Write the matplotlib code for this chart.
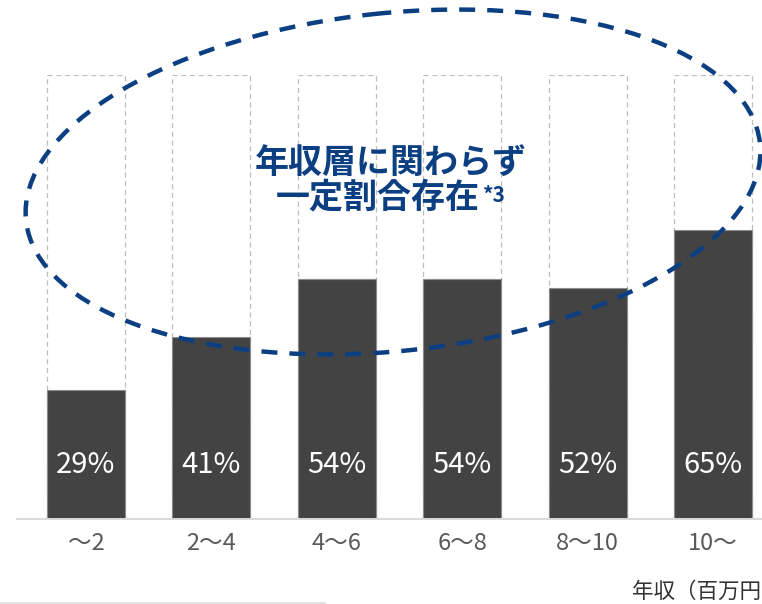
import matplotlib
matplotlib.use("Agg")
import matplotlib.pyplot as plt
from matplotlib.patches import Ellipse
from matplotlib.lines import Line2D

plt.rcParams['font.family'] = ['Noto Sans CJK JP', 'DejaVu Sans']

# Share of respondents by annual income bracket (million yen)
categories = ['〜2', '2〜4', '4〜6', '6〜8', '8〜10', '10〜']
shares = [29, 41, 54, 54, 52, 65]
full_scale = 100

W, H = 762, 604
fig = plt.figure(figsize=(W / 100, H / 100), dpi=100)
fig.patch.set_facecolor('white')

# main bar axes (baseline at y=519 px, 100% at y=75 px)
ax = fig.add_axes([17 / W, 1 - 519 / H, (W - 17) / W, 444 / H])
x = list(range(len(categories)))
bar_w = 0.622

# dashed outline showing the 100% envelope
ax.bar(x, [full_scale] * len(x), width=bar_w, fill=False,
       edgecolor='#bdbdbd', linewidth=0.9, linestyle=(0, (4, 3)), zorder=1)
bars = ax.bar(x, shares, width=bar_w, color='#434343',
              edgecolor='#8c8c8c', linewidth=0.8, zorder=2)
for xi, v in zip(x, shares):
    ax.text(xi, 12.2, f'{v}%', ha='center', va='center', color='white',
            fontsize=21, zorder=3)

ax.set_xlim(-0.550, 5.391)
ax.set_ylim(0, full_scale)
ax.set_xticks(x)
ax.set_xticklabels(categories, fontsize=17, color='#595959')
ax.tick_params(axis='x', length=0, pad=9)
ax.set_yticks([])
for s in ['top', 'left', 'right']:
    ax.spines[s].set_visible(False)
ax.spines['bottom'].set_color('#d9d9d9')
ax.spines['bottom'].set_linewidth(1.4)
ax.set_facecolor('none')

# overlay in pixel coordinates for the annotation
ov = fig.add_axes([0, 0, 1, 1], zorder=5)
ov.set_xlim(0, W)
ov.set_ylim(H, 0)
ov.axis('off')
ov.patch.set_alpha(0)

blue = '#0b3f82'
ov.add_patch(Ellipse((393, 182), 2 * 369, 2 * 169, angle=-6, fill=False,
                     edgecolor=blue, linewidth=3.2,
                     linestyle=(0, (3.6, 2.7))))
ov.text(391, 163, '年収層に関わらず', ha='center', va='center',
        color=blue, fontsize=24.5, fontweight='bold')
ov.text(480, 197, '一定割合存在', ha='right', va='center',
        color=blue, fontsize=24.5, fontweight='bold')
ov.text(483, 195, '*3', ha='left', va='center',
        color=blue, fontsize=15, fontweight='bold')

ov.text(632, 592, '年収（百万円）', ha='left', va='center',
        color='#333333', fontsize=15.5)

fig.add_artist(Line2D([0, 325 / W], [1 - 603 / H, 1 - 603 / H],
                      transform=fig.transFigure, color='#e0e0e0',
                      linewidth=1.2))

fig.savefig('out.png', dpi=100)
